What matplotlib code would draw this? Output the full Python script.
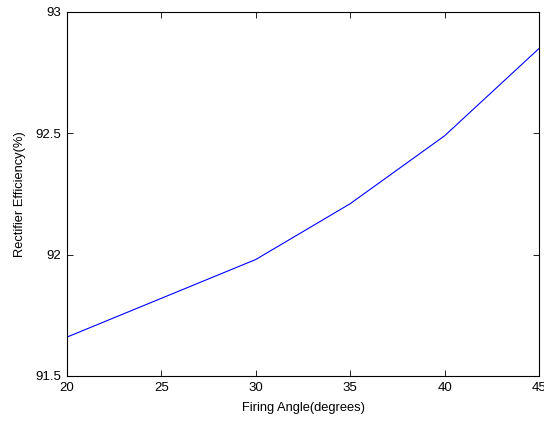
import matplotlib
matplotlib.use('Agg')
import matplotlib.pyplot as plt

# firing angle vs rectifier efficiency
angle = [20, 25, 30, 35, 40, 45]
efficiency = [91.66, 91.82, 91.98, 92.21, 92.49, 92.85]

plt.rcParams['font.family'] = ['Liberation Sans', 'DejaVu Sans']

fig = plt.figure(figsize=(5.44, 4.21), dpi=100)
ax = fig.add_axes([0.123, 0.107, 0.868, 0.8645])
ax.plot(angle, efficiency, color='#0000ff', linewidth=0.8)
ax.set_xlim(20, 45)
ax.set_ylim(91.5, 93)
ax.set_xticks([20, 25, 30, 35, 40, 45])
ax.set_yticks([91.5, 92, 92.5, 93])
ax.set_yticklabels(['91.5', '92', '92.5', '93'])
ax.tick_params(direction='in', length=4, width=0.6, labelsize=9.5,
               top=True, right=True, pad=4)
for s in ax.spines.values():
    s.set_linewidth(0.8)
ax.set_xlabel('Firing Angle(degrees)', fontsize=9.3, labelpad=6)
ax.set_ylabel('Rectifier Efficiency(%)', fontsize=9.3, labelpad=7)

fig.savefig('out.png', dpi=100)
